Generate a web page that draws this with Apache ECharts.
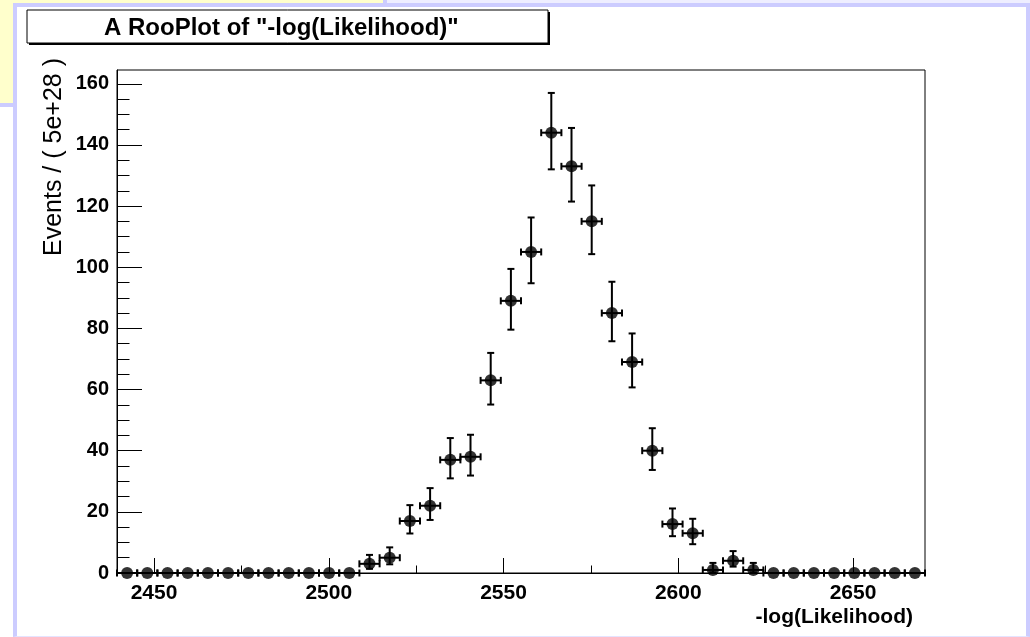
<!DOCTYPE html>
<html>
<head>
<meta charset="utf-8">
<script src="https://cdn.jsdelivr.net/npm/echarts@6/dist/echarts.min.js"></script>
<style>
  html, body { margin: 0; padding: 0; background: #ffffff; }
  #page { position: relative; width: 1030px; height: 637px; overflow: hidden; background: #ffffff; }
  .topstrip { position: absolute; left: 387px; top: 0; width: 643px; height: 3px; background: #eeeeff; }
  .yellow { position: absolute; left: 0; top: 0; width: 383px; height: 103px; background: #ffffcc;
            border-right: 4px solid #ccccff; border-bottom: 4px solid #ccccff; }
  .canvasframe { position: absolute; left: 13px; top: 3px; width: 1017px; height: 634px; box-sizing: border-box;
            background: #ffffff; border-left: 4px solid #ccccff; border-top: 4px solid #ccccff;
            border-right: 4px solid #ccccff; border-bottom: 1px solid #e4e4ff; }
  #chart { position: absolute; left: 0; top: 0; width: 1030px; height: 637px; }
</style>
</head>
<body>
<div id="page">
  <div class="topstrip"></div>
  <div class="yellow"></div>
  <div class="canvasframe"></div>
  <div id="chart"></div>
</div>
<script>
// ---- data ----
const titleText = 'A RooPlot of "-log(Likelihood)"';
const xTitle = '-log(Likelihood)';
const yTitle = 'Events / ( 5e+28 )';

const xMin = 2439.4;
const xMax = 2670.6;
const yMin = 0;
const yMax = 164.5;

const binHalfWidth = 2.89;

const binCenters = [
  2442.29, 2448.07, 2453.85, 2459.63, 2465.41, 2471.19, 2476.97, 2482.75, 2488.53, 2494.31,
  2500.09, 2505.87, 2511.65, 2517.43, 2523.21, 2528.99, 2534.77, 2540.55, 2546.33, 2552.11,
  2557.89, 2563.67, 2569.45, 2575.23, 2581.01, 2586.79, 2592.57, 2598.35, 2604.13, 2609.91,
  2615.69, 2621.47, 2627.25, 2633.03, 2638.81, 2644.59, 2650.37, 2656.15, 2661.93, 2667.71
];

const counts = [
  0, 0, 0, 0, 0, 0, 0, 0, 0, 0,
  0, 0, 3, 5, 17, 22, 37, 38, 63, 89,
  105, 144, 133, 115, 85, 69, 40, 16, 13, 1,
  4, 1, 0, 0, 0, 0, 0, 0, 0, 0
];

const errLow = [
  0, 0, 0, 0, 0, 0, 0, 0, 0, 0,
  0, 0, 1.63, 2.16, 4.08, 4.65, 6.05, 6.13, 7.91, 9.42,
  10.24, 11.99, 11.53, 10.72, 9.21, 8.3, 6.3, 3.96, 3.58, 0.83,
  1.91, 0.83, 0, 0, 0, 0, 0, 0, 0, 0
];

const errHigh = [
  0, 0, 0, 0, 0, 0, 0, 0, 0, 0,
  0, 0, 2.92, 3.38, 5.2, 5.76, 7.13, 7.21, 8.98, 10.45,
  11.27, 13.0, 12.55, 11.75, 10.25, 9.34, 7.35, 5.1, 4.73, 2.3,
  3.16, 2.3, 0, 0, 0, 0, 0, 0, 0, 0
];

const xMajorTicks = [2450, 2500, 2550, 2600, 2650];
const xMinorTicks = [2475, 2525, 2575, 2625];
const yMajorTicks = [0, 20, 40, 60, 80, 100, 120, 140, 160];
const yMinorTicks = [5, 10, 15, 25, 30, 35, 45, 50, 55, 65, 70, 75, 85, 90, 95,
                     105, 110, 115, 125, 130, 135, 145, 150, 155];

// ---- build series data ----
const pointData = binCenters.map((x, i) => [x, counts[i]]);
const errData = binCenters.map((x, i) => [x, counts[i], errLow[i], errHigh[i], binHalfWidth]);

const FONT = "'Liberation Sans', Arial, Helvetica, sans-serif";
const plain = v => String(v);

function renderErr(params, api) {
  const x = api.value(0), y = api.value(1), lo = api.value(2), hi = api.value(3), hw = api.value(4);
  const c = api.coord([x, y]);
  const l = api.coord([x - hw, y]);
  const r = api.coord([x + hw, y]);
  const st = { stroke: '#000', lineWidth: 2, fill: null };
  const cap = 3.5;
  const children = [
    { type: 'line', shape: { x1: l[0], y1: c[1], x2: r[0], y2: c[1] }, style: st },
    { type: 'line', shape: { x1: l[0], y1: c[1] - cap, x2: l[0], y2: c[1] + cap }, style: st },
    { type: 'line', shape: { x1: r[0], y1: c[1] - cap, x2: r[0], y2: c[1] + cap }, style: st }
  ];
  if (hi > 0) {
    const t = api.coord([x, y + hi]);
    const b = api.coord([x, y - lo]);
    children.push({ type: 'line', shape: { x1: c[0], y1: t[1], x2: c[0], y2: b[1] }, style: st });
    children.push({ type: 'line', shape: { x1: c[0] - cap, y1: t[1], x2: c[0] + cap, y2: t[1] }, style: st });
    children.push({ type: 'line', shape: { x1: c[0] - cap, y1: b[1], x2: c[0] + cap, y2: b[1] }, style: st });
  }
  return { type: 'group', children };
}

const chart = echarts.init(document.getElementById('chart'), null, { renderer: 'canvas' });

const option = {
  animation: false,
  backgroundColor: 'transparent',
  title: {
    text: titleText,
    left: 104,
    top: 16,
    padding: 0,
    textStyle: { fontFamily: FONT, fontSize: 24, fontWeight: 'bold', color: '#000' }
  },
  graphic: [
    { type: 'rect', z: 0, shape: { x: 29, y: 12, width: 521, height: 33 }, style: { fill: '#000' } },
    { type: 'rect', z: 0, shape: { x: 27, y: 10, width: 521, height: 33 }, style: { fill: '#fff', stroke: '#000', lineWidth: 1 } }
  ],
  grid: {
    left: 117, top: 70, right: 105, bottom: 64,
    show: true, borderColor: '#000', borderWidth: 1, backgroundColor: 'transparent',
    containLabel: false, outerBoundsMode: 'none'
  },
  xAxis: [
    {
      type: 'value', min: xMin, max: xMax, position: 'bottom',
      name: xTitle, nameLocation: 'end', nameGap: -12, nameMoveOverlap: false,
      nameTextStyle: { fontFamily: FONT, fontSize: 21, fontWeight: 'bold', color: '#000',
                       align: 'right', verticalAlign: 'top', padding: [34, 0, 0, 0] },
      axisLine: { show: true, lineStyle: { color: '#000', width: 1 } },
      axisTick: { show: true, inside: true, length: 15, customValues: xMajorTicks, lineStyle: { color: '#000', width: 1 } },
      axisLabel: { show: true, customValues: xMajorTicks, formatter: plain, margin: 10, fontFamily: FONT, fontSize: 21, fontWeight: 'bold', color: '#000' },
      splitLine: { show: false }
    },
    {
      type: 'value', min: xMin, max: xMax, position: 'bottom',
      axisLine: { show: false },
      axisTick: { show: true, inside: true, length: 7.5, customValues: xMinorTicks, lineStyle: { color: '#000', width: 1 } },
      axisLabel: { show: false },
      splitLine: { show: false }
    }
  ],
  yAxis: [
    {
      type: 'value', min: yMin, max: yMax, position: 'left',
      axisLine: { show: true, lineStyle: { color: '#000', width: 1 } },
      axisTick: { show: true, inside: true, length: 25, customValues: yMajorTicks, lineStyle: { color: '#000', width: 1 } },
      axisLabel: { show: true, customValues: yMajorTicks, formatter: plain, margin: 8, fontFamily: FONT, fontSize: 20, fontWeight: 'bold', color: '#000' },
      splitLine: { show: false }
    },
    {
      type: 'value', min: yMin, max: yMax, position: 'left',
      axisLine: { show: false },
      axisTick: { show: true, inside: true, length: 12.5, customValues: yMinorTicks, lineStyle: { color: '#000', width: 1 } },
      axisLabel: { show: false },
      splitLine: { show: false }
    },
    {
      type: 'value', min: yMin, max: yMax, position: 'left', offset: 63,
      name: yTitle, nameLocation: 'end', nameGap: 12, nameRotate: 90, nameMoveOverlap: false,
      nameTextStyle: { fontFamily: FONT, fontSize: 25, fontWeight: 'normal', color: '#000',
                       align: 'right', verticalAlign: 'middle' },
      axisLine: { show: false },
      axisTick: { show: false },
      axisLabel: { show: false },
      splitLine: { show: false }
    }
  ],
  series: [
    {
      type: 'custom', name: 'errors', xAxisIndex: 0, yAxisIndex: 0,
      renderItem: renderErr, data: errData, z: 2, silent: true
    },
    {
      type: 'scatter', name: 'data', xAxisIndex: 0, yAxisIndex: 0,
      data: pointData, symbol: 'circle', symbolSize: 12,
      itemStyle: { color: '#000' }, z: 3, silent: true
    }
  ]
};

chart.setOption(option);
</script>
</body>
</html>
